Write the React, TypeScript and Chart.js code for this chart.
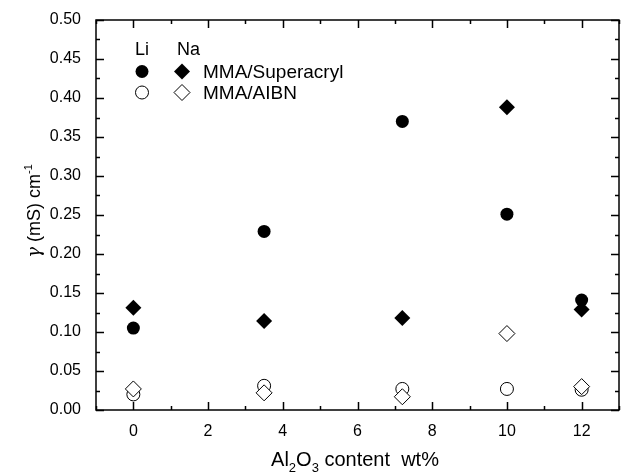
import React, { useEffect, useRef } from "react";
import { Chart, registerables } from "chart.js";

Chart.register(...registerables);

const contentWt = [0, 3.5, 7.2, 10, 12];
const liSuperacryl = [0.105, 0.229, 0.37, 0.251, 0.141];
const naSuperacryl = [0.131, 0.114, 0.118, 0.388, 0.129];
const liAibn = [0.02, 0.031, 0.027, 0.027, 0.026];
const naAibn = [0.027, 0.022, 0.017, 0.098, 0.03];

const xMajorTicks = [0, 2, 4, 6, 8, 10, 12];
const yMajorTicks = [0, 0.05, 0.1, 0.15, 0.2, 0.25, 0.3, 0.35, 0.4, 0.45, 0.5];

const SANS = '"Liberation Sans", Arial, sans-serif';

function pts(ys: number[]) {
  return contentWt.map((x, i) => ({ x, y: ys[i] }));
}

function drawParts(ctx: CanvasRenderingContext2D, parts: { t: string; font: string; dy?: number }[], cx: number, base: number) {
  let total = 0;
  for (const p of parts) {
    ctx.font = p.font;
    total += ctx.measureText(p.t).width;
  }
  let x = cx - total / 2;
  ctx.textAlign = "left";
  ctx.textBaseline = "alphabetic";
  for (const p of parts) {
    ctx.font = p.font;
    ctx.fillText(p.t, x, base + (p.dy || 0));
    x += ctx.measureText(p.t).width;
  }
}

function circle(ctx: CanvasRenderingContext2D, x: number, y: number, r: number, filled: boolean) {
  ctx.beginPath();
  ctx.arc(x, y, r, 0, Math.PI * 2);
  if (filled) {
    ctx.fillStyle = "#000";
    ctx.fill();
  } else {
    ctx.fillStyle = "#fff";
    ctx.fill();
    ctx.lineWidth = 1;
    ctx.strokeStyle = "#000";
    ctx.stroke();
  }
}

function diamond(ctx: CanvasRenderingContext2D, x: number, y: number, r: number, filled: boolean) {
  ctx.beginPath();
  ctx.moveTo(x, y - r);
  ctx.lineTo(x + r, y);
  ctx.lineTo(x, y + r);
  ctx.lineTo(x - r, y);
  ctx.closePath();
  if (filled) {
    ctx.fillStyle = "#000";
    ctx.fill();
  } else {
    ctx.fillStyle = "#fff";
    ctx.fill();
    ctx.lineWidth = 1;
    ctx.strokeStyle = "#000";
    ctx.stroke();
  }
}

const framePlugin = {
  id: "frame",
  afterDraw(chart: any) {
    const ctx: CanvasRenderingContext2D = chart.ctx;
    const a = chart.chartArea;
    const xs = chart.scales.x;
    const ys = chart.scales.y;
    ctx.save();
    ctx.strokeStyle = "#000";
    ctx.lineWidth = 1.5;
    ctx.strokeRect(a.left, a.top, a.right - a.left, a.bottom - a.top);
    ctx.lineWidth = 1.5;
    ctx.beginPath();
    for (let v = -1; v <= 13; v += 1) {
      const major = xMajorTicks.includes(v);
      const len = major ? 8 : 4;
      const px = Math.round(xs.getPixelForValue(v)) + 0.5;
      ctx.moveTo(px, a.bottom);
      ctx.lineTo(px, a.bottom - len);
      ctx.moveTo(px, a.top);
      ctx.lineTo(px, a.top + len);
    }
    for (let i = 0; i <= 20; i++) {
      const v = i * 0.025;
      const major = i % 2 === 0;
      const len = major ? 8 : 4;
      const py = Math.round(ys.getPixelForValue(v)) + 0.5;
      ctx.moveTo(a.left, py);
      ctx.lineTo(a.left + len, py);
      ctx.moveTo(a.right, py);
      ctx.lineTo(a.right - len, py);
    }
    ctx.stroke();

    // Legend
    ctx.fillStyle = "#000";
    ctx.font = `18px ${SANS}`;
    ctx.textAlign = "left";
    ctx.textBaseline = "alphabetic";
    ctx.fillText("Li", 135, 55);
    ctx.fillText("Na", 177, 55);
    circle(ctx, 142, 71.5, 6.5, true);
    diamond(ctx, 182, 71.5, 8, true);
    ctx.fillStyle = "#000";
    ctx.font = `19px ${SANS}`;
    ctx.fillText("MMA/Superacryl", 203, 77.5);
    circle(ctx, 142, 92.5, 6.5, false);
    diamond(ctx, 182, 92.5, 8, false);
    ctx.fillStyle = "#000";
    ctx.font = `19px ${SANS}`;
    ctx.fillText("MMA/AIBN", 203, 98.5);

    // X title
    ctx.fillStyle = "#000";
    drawParts(
      ctx,
      [
        { t: "Al", font: `20px ${SANS}` },
        { t: "2", font: `13px ${SANS}`, dy: 6 },
        { t: "O", font: `20px ${SANS}` },
        { t: "3", font: `13px ${SANS}`, dy: 6 },
        { t: " content  wt%", font: `20px ${SANS}` },
      ],
      355,
      466
    );

    // Y title
    ctx.save();
    ctx.translate(40, 211);
    ctx.rotate(-Math.PI / 2);
    drawParts(
      ctx,
      [
        { t: "γ", font: `italic 18px "DejaVu Serif", serif` },
        { t: " (mS) cm", font: `18px ${SANS}` },
        { t: "-1", font: `11px ${SANS}`, dy: -8 },
      ],
      0,
      0
    );
    ctx.restore();
    ctx.restore();
  },
};

export default function App() {
  const ref = useRef<HTMLCanvasElement>(null);
  useEffect(() => {
    if (!ref.current) return;
    const chart = new Chart(ref.current, {
      type: "scatter",
      data: {
        datasets: [
          {
            label: "Na MMA/Superacryl",
            data: pts(naSuperacryl),
            pointStyle: "rectRot",
            pointRadius: 8,
            backgroundColor: "#000",
            borderColor: "#000",
            borderWidth: 0,
            order: 0,
          },
          {
            label: "Na MMA/AIBN",
            data: pts(naAibn),
            pointStyle: "rectRot",
            pointRadius: 8,
            backgroundColor: "#fff",
            borderColor: "#000",
            borderWidth: 1,
            order: 0,
          },
          {
            label: "Li MMA/Superacryl",
            data: pts(liSuperacryl),
            pointStyle: "circle",
            pointRadius: 6.5,
            backgroundColor: "#000",
            borderColor: "#000",
            borderWidth: 0,
            order: 1,
          },
          {
            label: "Li MMA/AIBN",
            data: pts(liAibn),
            pointStyle: "circle",
            pointRadius: 6.5,
            backgroundColor: "#fff",
            borderColor: "#000",
            borderWidth: 1,
            order: 1,
          },
        ],
      },
      options: {
        responsive: false,
        animation: false,
        events: [],
        layout: { autoPadding: false, padding: { top: 20, right: 5, left: 0, bottom: 0 } },
        plugins: { legend: { display: false }, tooltip: { enabled: false }, title: { display: false } },
        scales: {
          x: {
            type: "linear",
            min: -1,
            max: 13,
            grid: { display: false, drawTicks: false },
            border: { display: false },
            afterFit: (s: any) => {
              s.height = 65;
              s.paddingLeft = 0;
              s.paddingRight = 0;
              s.paddingTop = 0;
              s.paddingBottom = 0;
            },
            afterBuildTicks: (s: any) => {
              s.ticks = xMajorTicks.map((v) => ({ value: v }));
            },
            ticks: {
              autoSkip: false,
              maxRotation: 0,
              padding: 12,
              color: "#000",
              font: { family: SANS, size: 16 },
              callback: (v: any) => String(v),
            },
          },
          y: {
            type: "linear",
            min: 0,
            max: 0.5,
            grid: { display: false, drawTicks: false },
            border: { display: false },
            afterFit: (s: any) => {
              s.width = 96;
              s.paddingLeft = 0;
              s.paddingRight = 0;
              s.paddingTop = 0;
              s.paddingBottom = 0;
            },
            afterBuildTicks: (s: any) => {
              s.ticks = yMajorTicks.map((v) => ({ value: v }));
            },
            ticks: {
              autoSkip: false,
              padding: 15,
              color: "#000",
              font: { family: SANS, size: 16 },
              callback: (v: any) => Number(v).toFixed(2),
            },
          },
        },
      },
      plugins: [framePlugin],
    } as any);
    return () => chart.destroy();
  }, []);
  return (
    <div style={{ position: "absolute", left: 0, top: 0, width: 624, height: 475, background: "#fff" }}>
      <canvas ref={ref} width={624} height={475} style={{ display: "block" }} />
    </div>
  );
}
